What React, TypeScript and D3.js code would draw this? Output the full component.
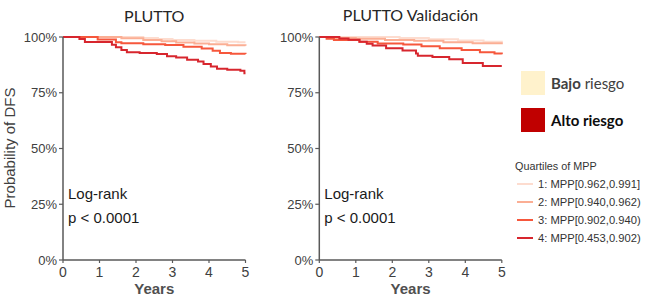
import React from 'react';
import * as d3 from 'd3';

// Kaplan-Meier curves: [years, survival %]
const plutoQ1: [number, number][] = [[0, 100], [2.2, 99.6], [2.6, 99.1], [3.0, 98.7], [3.6, 98.3], [4.2, 97.9], [4.8, 97.6], [5, 97.6]];
const plutoQ2: [number, number][] = [[0, 100], [1.6, 99.4], [2.2, 98.7], [2.7, 98.1], [3.1, 97.5], [3.6, 97.1], [4.0, 96.8], [4.5, 96.3], [5, 96.1]];
const plutoQ3: [number, number][] = [[0, 100], [0.95, 98.9], [1.45, 97.7], [1.6, 97.2], [2.2, 96.8], [2.8, 96.4], [3.3, 95.6], [3.8, 94.8], [4.1, 93.8], [4.3, 92.8], [4.6, 92.5], [5, 92.4]];
const plutoQ4: [number, number][] = [[0, 100], [0.45, 99.1], [0.6, 97.8], [1.34, 96.5], [1.45, 95.4], [1.6, 94.2], [1.75, 93.2], [2.1, 92.8], [2.57, 92.4], [2.85, 91.4], [3.1, 90.8], [3.4, 89.8], [3.7, 89.0], [3.85, 87.9], [4.05, 86.8], [4.22, 85.8], [4.5, 85.3], [4.86, 84.9], [4.97, 83.7], [5, 83.7]];

const validQ1: [number, number][] = [[0, 100], [2.2, 99.5], [3.0, 99.0], [3.8, 98.4], [4.5, 97.9], [5, 97.5]];
const validQ2: [number, number][] = [[0, 100], [0.3, 99.6], [1.0, 99.2], [1.8, 98.7], [2.6, 98.3], [3.4, 97.7], [4.2, 97.2], [5, 96.8]];
const validQ3: [number, number][] = [[0, 100], [0.2, 99.2], [0.4, 98.6], [1.1, 97.9], [1.6, 97.1], [2.3, 96.6], [2.8, 95.8], [3.3, 95.0], [3.9, 94.2], [4.4, 93.2], [4.8, 92.6], [5, 92.3]];
const validQ4: [number, number][] = [[0, 100], [0.55, 99.3], [0.8, 98.8], [1.1, 97.9], [1.3, 97.0], [1.46, 96.2], [1.83, 95.0], [2.28, 93.9], [2.65, 92.6], [2.7, 91.6], [3.1, 91.0], [3.56, 90.0], [3.93, 88.3], [4.48, 87.0], [5, 87.0]];

const panelTitles = ['PLUTTO', 'PLUTTO Validación'];
const panelCurves = [[plutoQ1, plutoQ2, plutoQ3, plutoQ4], [validQ1, validQ2, validQ3, validQ4]];
const xTicks = [0, 1, 2, 3, 4, 5];
const yTicks = [0, 25, 50, 75, 100];
const quartileLabels = ['1: MPP[0.962,0.991]', '2: MPP[0.940,0.962)', '3: MPP[0.902,0.940)', '4: MPP[0.453,0.902)'];
const quartileColors = ['#FDDCCF', '#FBAE94', '#F6573C', '#D7262E'];

const axisColor = '#595959';
const textColor = '#404040';
const arial = '"Liberation Sans", Arial, sans-serif';
const calibri = 'Lato, "Open Sans", sans-serif';

const Panel: React.FC<{ left: number; idx: number }> = ({ left, idx }) => {
  const x = d3.scaleLinear().domain([0, 5]).range([left, left + 182.5]);
  const y = d3.scaleLinear().domain([0, 100]).range([260, 37]);
  const line = d3.line<[number, number]>().x(d => x(d[0])).y(d => y(d[1])).curve(d3.curveStepAfter);
  return (
    <g>
      <text x={x(2.5)} y={idx === 0 ? 22 : 21} textAnchor="middle" fontFamily={calibri} fontSize={16} fill="#262626">
        {panelTitles[idx]}
      </text>
      {panelCurves[idx].map((c, i) => (
        <path key={i} d={line(c) || ''} fill="none" stroke={quartileColors[i]} strokeWidth={2} />
      ))}
      <line x1={left} x2={left} y1={y(100)} y2={y(0)} stroke={axisColor} strokeWidth={1.5} />
      <line x1={left} x2={x(5)} y1={y(0)} y2={y(0)} stroke={axisColor} strokeWidth={1.5} />
      {yTicks.map(t => (
        <g key={t}>
          <line x1={left - 4} x2={left} y1={y(t)} y2={y(t)} stroke={axisColor} strokeWidth={1.2} />
          <text x={left - 6} y={y(t) + 4.5} textAnchor="end" fontFamily={arial} fontSize={13} fill={textColor}>{t}%</text>
        </g>
      ))}
      {xTicks.map(t => (
        <g key={t}>
          <line x1={x(t)} x2={x(t)} y1={y(0)} y2={y(0) + 3} stroke={axisColor} strokeWidth={1.2} />
          <text x={x(t)} y={y(0) + 17} textAnchor="middle" fontFamily={arial} fontSize={14} fill={textColor}>{t}</text>
        </g>
      ))}
      <text x={x(2.5)} y={294} textAnchor="middle" fontFamily={arial} fontSize={15} fontWeight="bold" fill="#505050">Years</text>
      <text x={left + 5} y={199} fontFamily={arial} fontSize={15} fill="#1a1a1a">Log-rank</text>
      <text x={left + 5} y={223} fontFamily={arial} fontSize={15} fill="#1a1a1a">p &lt; 0.0001</text>
    </g>
  );
};

const App: React.FC = () => {
  return (
    <svg width={647} height={301} style={{ position: 'absolute', left: 0, top: 0, background: '#fff' }}>
      <text transform="translate(15,148) rotate(-90)" textAnchor="middle" fontFamily={arial} fontSize={15} fill="#404040">
        Probability of DFS
      </text>
      <Panel left={63} idx={0} />
      <Panel left={319.3} idx={1} />

      {/* risk legend */}
      <rect x={521} y={71} width={24} height={24} fill="#FFF2CC" />
      <text x={551} y={89} fontFamily={calibri} fontSize={15} fill="#404040">
        <tspan fontWeight="bold">Bajo</tspan> riesgo
      </text>
      <rect x={521} y={108} width={24} height={24} fill="#C00000" />
      <text x={551} y={126} fontFamily={calibri} fontSize={15} fontWeight="bold" fill="#0d0d0d">Alto riesgo</text>

      {/* quartile legend */}
      <text x={515} y={170} fontFamily={arial} fontSize={10.8} fill="#333">Quartiles of MPP</text>
      {quartileLabels.map((l, i) => (
        <g key={l}>
          <line x1={517} x2={533} y1={184 + i * 18} y2={184 + i * 18} stroke={quartileColors[i]} strokeWidth={2} />
          <text x={538} y={188 + i * 18} fontFamily={arial} fontSize={11.2} fill="#333">{l}</text>
        </g>
      ))}
    </svg>
  );
};

export default App;
